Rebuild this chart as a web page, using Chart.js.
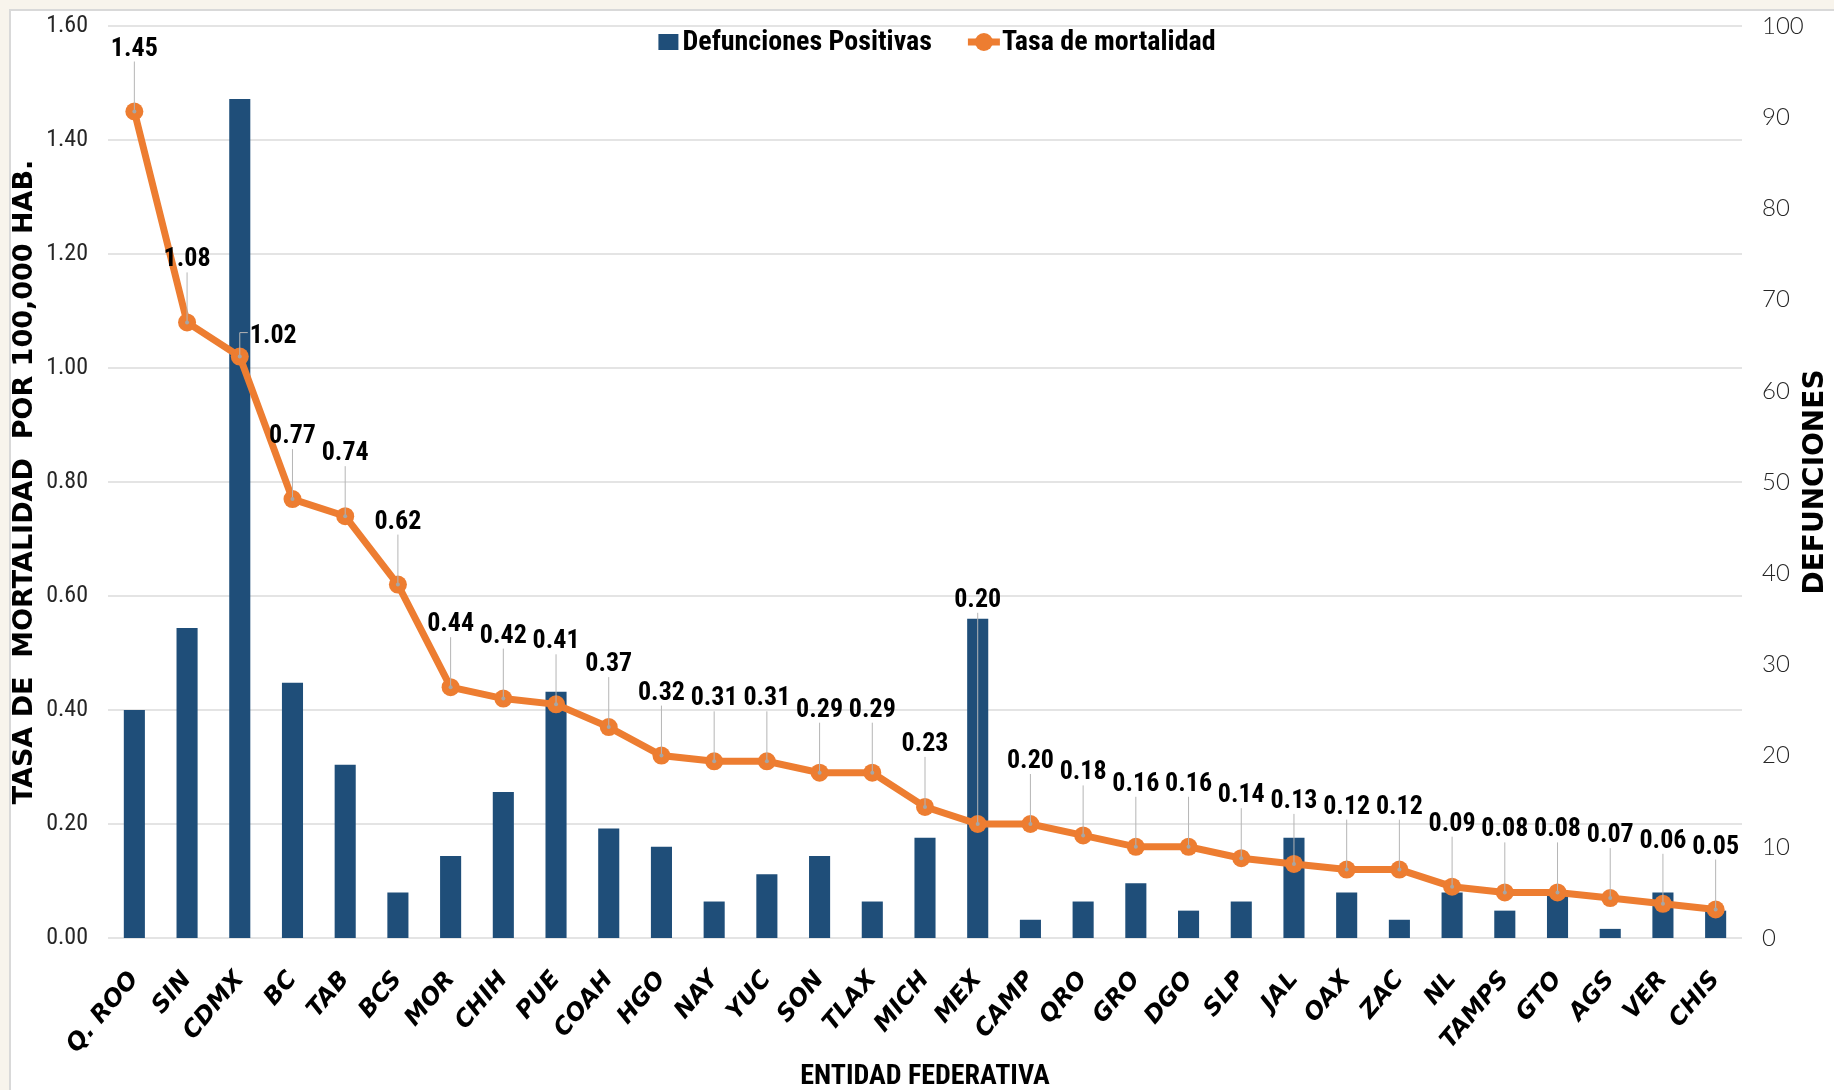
<!DOCTYPE html>
<html>
<head>
<meta charset="utf-8">
<title>Tasa de mortalidad por entidad federativa</title>
<script src="https://cdn.jsdelivr.net/npm/chart.js@4.4.1/dist/chart.umd.min.js"></script>
<style>
	html, body { margin: 0; padding: 0; background: #fff; }
	#wrap { width: 1834px; height: 1090px; }
</style>
</head>
<body>
<div id="wrap"><canvas id="mixed-chartcanvas" width="1834" height="1090"></canvas></div>
<script>
var estados = ["Q. ROO", "SIN", "CDMX", "BC", "TAB", "BCS", "MOR", "CHIH", "PUE", "COAH", "HGO",
	"NAY", "YUC", "SON", "TLAX", "MICH", "MEX", "CAMP", "QRO", "GRO", "DGO", "SLP", "JAL",
	"OAX", "ZAC", "NL", "TAMPS", "GTO", "AGS", "VER", "CHIS"];

var defunciones = [25, 34, 92, 28, 19, 5, 9, 16, 27, 12, 10,
	4, 7, 9, 4, 11, 35, 2, 4, 6, 3, 4, 11,
	5, 2, 5, 3, 5, 1, 5, 3];

var tasa = [1.45, 1.08, 1.02, 0.77, 0.74, 0.62, 0.44, 0.42, 0.41, 0.37, 0.32,
	0.31, 0.31, 0.29, 0.29, 0.23, 0.20, 0.20, 0.18, 0.16, 0.16, 0.14, 0.13,
	0.12, 0.12, 0.09, 0.08, 0.08, 0.07, 0.06, 0.05];

var ticksTasa = [0, 0.2, 0.4, 0.6, 0.8, 1.0, 1.2, 1.4, 1.6];
var ticksDefunciones = [0, 10, 20, 30, 40, 50, 60, 70, 80, 90, 100];

var azul = "#1f4e79";
var naranja = "#ed7d31";
var narrow = "'Liberation Sans Narrow', 'Roboto Condensed', 'Arial Narrow', Roboto, sans-serif";
var wide = "'DejaVu Sans', Verdana, sans-serif";

// marco gris claro alrededor de la grafica
var marco = {
	id: "marco",
	beforeDraw: function(chart) {
		var ctx = chart.ctx;
		ctx.save();
		ctx.fillStyle = "#fff";
		ctx.fillRect(0, 0, chart.width, chart.height);
		ctx.fillStyle = "#f8f4ec";
		ctx.fillRect(0, 0, 10, chart.height);
		ctx.fillRect(0, 0, chart.width, 10);
		ctx.strokeStyle = "#d9d9d9";
		ctx.lineWidth = 2;
		ctx.beginPath();
		ctx.moveTo(chart.width, 10);
		ctx.lineTo(10, 10);
		ctx.lineTo(10, chart.height);
		ctx.stroke();
		ctx.restore();
	}
};

// etiquetas de la tasa con linea guia; si la barra tapa la etiqueta,
// se sube por encima de la barra o se pone a la derecha del punto
var etiquetas = {
	id: "etiquetas",
	afterDatasetsDraw: function(chart) {
		var ctx = chart.ctx;
		var barras = chart.getDatasetMeta(0).data;
		var meta = chart.getDatasetMeta(1);
		ctx.save();
		ctx.font = "bold 26px " + narrow;
		ctx.textBaseline = "alphabetic";
		meta.data.forEach(function(pt, i) {
			var barTop = barras[i].y;
			var base = pt.y - 56;
			var lado = false;
			if (barTop < base + 4) {
				if (pt.y - barTop < 220) {
					base = barTop - 12;
				} else {
					lado = true;
				}
			}
			ctx.strokeStyle = "#b5b5b5";
			ctx.lineWidth = 1;
			ctx.beginPath();
			if (lado) {
				ctx.moveTo(pt.x, pt.y);
				ctx.lineTo(pt.x, pt.y - 24);
				ctx.lineTo(pt.x + 8, pt.y - 24);
			} else {
				ctx.moveTo(pt.x, pt.y);
				ctx.lineTo(pt.x, base + 6);
			}
			ctx.stroke();
			ctx.fillStyle = "#a6a6a6";
			ctx.beginPath();
			ctx.arc(pt.x, pt.y, 2, 0, Math.PI * 2);
			ctx.fill();
			ctx.fillStyle = "#000";
			if (lado) {
				ctx.textAlign = "left";
				ctx.fillText(tasa[i].toFixed(2), pt.x + 10, pt.y - 14);
			} else {
				ctx.textAlign = "center";
				ctx.fillText(tasa[i].toFixed(2), pt.x, base);
			}
		});
		ctx.restore();
	}
};

// leyenda y titulo del eje derecho
var leyenda = {
	id: "leyenda",
	afterDraw: function(chart) {
		var ctx = chart.ctx;
		var area = chart.chartArea;
		var ds = chart.data.datasets;
		ctx.save();
		ctx.font = "bold 28px " + narrow;
		ctx.textBaseline = "middle";
		ctx.textAlign = "left";
		var w1 = ctx.measureText(ds[0].label).width;
		var w2 = ctx.measureText(ds[1].label).width;
		var total = 20 + 4 + w1 + 36 + 32 + 2 + w2;
		var x = (area.left + area.right) / 2 + 12 - total / 2;
		var y = 42;
		ctx.fillStyle = ds[0].backgroundColor;
		ctx.fillRect(x, y - 8, 20, 16);
		x += 24;
		ctx.fillStyle = "#000";
		ctx.fillText(ds[0].label, x, y + 1);
		x += w1 + 36;
		ctx.strokeStyle = ds[1].borderColor;
		ctx.lineWidth = 7;
		ctx.beginPath();
		ctx.moveTo(x, y);
		ctx.lineTo(x + 32, y);
		ctx.stroke();
		ctx.fillStyle = ds[1].borderColor;
		ctx.beginPath();
		ctx.arc(x + 16, y, 9, 0, Math.PI * 2);
		ctx.fill();
		x += 34;
		ctx.fillStyle = "#000";
		ctx.fillText(ds[1].label, x, y + 1);

		var y1 = chart.scales.y1;
		ctx.translate(1816, (y1.top + y1.bottom) / 2);
		ctx.rotate(-Math.PI / 2);
		ctx.textAlign = "center";
		ctx.font = "bold 28px " + wide;
		ctx.fillText("DEFUNCIONES", 0, 0);
		ctx.restore();
	}
};

var ctx = document.getElementById("mixed-chartcanvas");

var data = {
	labels: estados,
	datasets: [
		{
			type: "bar",
			label: "Defunciones Positivas",
			data: defunciones,
			yAxisID: "y1",
			backgroundColor: azul,
			barPercentage: 0.4,
			categoryPercentage: 1,
			order: 1
		},
		{
			type: "line",
			label: "Tasa de mortalidad",
			data: tasa,
			yAxisID: "y",
			borderColor: naranja,
			backgroundColor: naranja,
			borderWidth: 7,
			fill: false,
			tension: 0,
			pointRadius: 9,
			pointBorderWidth: 0,
			pointBackgroundColor: naranja,
			order: 0
		}
	]
};

var options = {
	responsive: false,
	animation: false,
	devicePixelRatio: 1,
	layout: { padding: { top: 26, left: 0, right: 0, bottom: 0 } },
	plugins: {
		legend: { display: false },
		tooltip: { enabled: false }
	},
	scales: {
		x: {
			grid: { display: false, drawTicks: false },
			border: { display: false },
			ticks: {
				autoSkip: false,
				maxRotation: 50,
				minRotation: 50,
				padding: 28,
				color: "#000",
				font: { family: wide, size: 24, weight: "bold", style: "italic" }
			},
			title: {
				display: true,
				text: "ENTIDAD FEDERATIVA",
				color: "#000",
				font: { family: narrow, size: 28, weight: "bold" },
				padding: { top: 0, bottom: -4 }
			},
			afterFit: function(s) {
				s.height = 152;
				s.paddingLeft = 0;
				s.paddingRight = 0;
			}
		},
		y: {
			position: "left",
			min: 0,
			max: 1.6,
			afterBuildTicks: function(s) {
				s.ticks = ticksTasa.map(function(v) { return { value: v }; });
			},
			ticks: {
				padding: 20,
				color: "#262626",
				font: { family: narrow, size: 24 },
				callback: function(v) { return v.toFixed(2); }
			},
			grid: { color: "#e4e4e4", lineWidth: 2, drawTicks: false },
			border: { display: false },
			title: {
				display: true,
				text: "TASA DE  MORTALIDAD  POR 100,000 HAB.",
				color: "#000",
				font: { family: wide, size: 27, weight: "bold" },
				padding: { top: 9, bottom: 0 }
			},
			afterFit: function(s) {
				s.width = 108;
				s.paddingTop = 0;
				s.paddingBottom = 0;
			}
		},
		y1: {
			position: "right",
			min: 0,
			max: 100,
			afterBuildTicks: function(s) {
				s.ticks = ticksDefunciones.map(function(v) { return { value: v }; });
			},
			ticks: {
				padding: 20,
				color: "#262626",
				font: { family: "Lato, 'Open Sans', sans-serif", size: 24, weight: 300 }
			},
			grid: { display: false, drawTicks: false },
			border: { display: false },
			afterFit: function(s) {
				s.width = 92;
				s.paddingTop = 0;
				s.paddingBottom = 0;
			}
		}
	}
};

var chart = new Chart(ctx, {
	data: data,
	options: options,
	plugins: [marco, etiquetas, leyenda]
});
</script>
</body>
</html>
